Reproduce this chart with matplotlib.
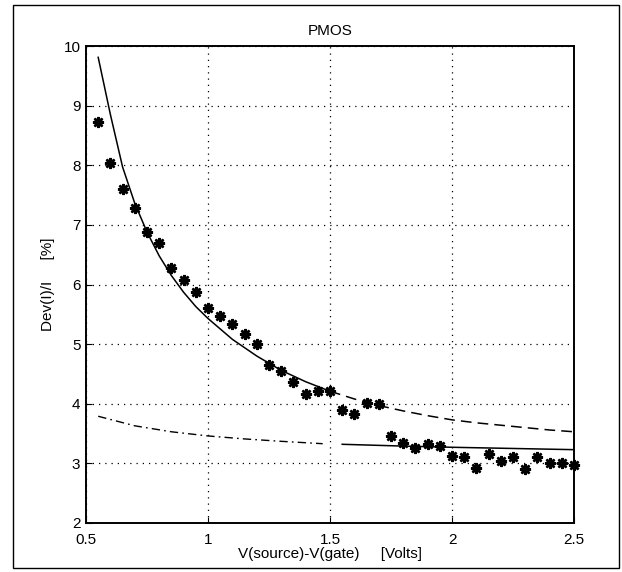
import matplotlib
matplotlib.use('agg')
import matplotlib.pyplot as plt
from matplotlib.patches import Rectangle

plt.rcParams['font.family'] = ['Liberation Sans', 'DejaVu Sans']

# measured points (stars)
vx = [0.55, 0.60, 0.65, 0.70, 0.75, 0.80, 0.85, 0.90, 0.95, 1.00,
      1.05, 1.10, 1.15, 1.20, 1.25, 1.30, 1.35, 1.40, 1.45, 1.50,
      1.55, 1.60, 1.65, 1.70, 1.75, 1.80, 1.85, 1.90, 1.95, 2.00,
      2.05, 2.10, 2.15, 2.20, 2.25, 2.30, 2.35, 2.40, 2.45, 2.50]
dev = [8.73, 8.03, 7.61, 7.29, 6.88, 6.70, 6.28, 6.08, 5.88, 5.60,
       5.47, 5.33, 5.17, 5.00, 4.65, 4.55, 4.37, 4.16, 4.21, 4.21,
       3.89, 3.83, 4.02, 3.99, 3.46, 3.35, 3.25, 3.32, 3.29, 3.12,
       3.11, 2.93, 3.15, 3.04, 3.11, 2.91, 3.10, 3.00, 3.00, 2.98]

# model curve, solid part and dashed continuation
fit_x = [0.55, 0.60, 0.65, 0.70, 0.75, 0.80, 0.85, 0.90, 0.95, 1.00,
         1.10, 1.20, 1.30, 1.40, 1.50]
fit_y = [9.81, 8.85, 7.97, 7.36, 6.88, 6.48, 6.15, 5.87, 5.63, 5.43,
         5.08, 4.80, 4.56, 4.37, 4.21]
ext_x = [1.50, 1.60, 1.70, 1.80, 1.90, 2.00, 2.10, 2.20, 2.30, 2.40, 2.50]
ext_y = [4.21, 4.08, 3.97, 3.88, 3.80, 3.73, 3.68, 3.64, 3.60, 3.56, 3.53]

# second model curve, dash-dot part and solid part
low_x = [0.55, 0.70, 0.85, 1.00, 1.15, 1.30, 1.47]
low_y = [3.79, 3.63, 3.53, 3.46, 3.41, 3.37, 3.33]
flat_x = [1.55, 1.80, 2.00, 2.25, 2.50]
flat_y = [3.32, 3.29, 3.27, 3.25, 3.23]

fig = plt.figure(figsize=(6.22, 5.72), dpi=100)
ax = fig.add_axes([86/622, 49/572, 488/622, 477/572])

ax.plot(fit_x, fit_y, color='k', lw=1.1)
ax.plot(ext_x, ext_y, color='k', lw=1.1, dashes=(7, 4))
ax.plot(low_x, low_y, color='k', lw=1.0, dashes=(6, 3, 1.2, 3))
ax.plot(flat_x, flat_y, color='k', lw=1.1)
ax.plot(vx, dev, ls='none', marker=(8, 2, 0), ms=8, mew=1.8, color='k', clip_on=False)

ax.set_xlim(0.5, 2.5)
ax.set_ylim(2, 10)
ax.set_xticks([0.5, 1, 1.5, 2, 2.5])
ax.set_xticklabels(['0.5', '1', '1.5', '2', '2.5'])
ax.set_yticks(range(2, 11))
ax.grid(True, color='k', ls=(0, (1, 4)), lw=0.9)
ax.tick_params(direction='in', length=4, labelsize=11, width=0.8)
ax.tick_params(axis='y', pad=4)
ax.tick_params(axis='x', pad=7)
for s in ax.spines.values():
    s.set_linewidth(1.4)

ax.set_title('PMOS', fontsize=11, pad=8)
ax.set_xlabel('V(source)-V(gate)     [Volts]', fontsize=11, labelpad=0)
ax.set_ylabel('Dev(I)/I     [%]', fontsize=11, labelpad=6)

fig.patches.append(Rectangle((13/622, 4/572), 606/622, 563/572, transform=fig.transFigure,
                             fill=False, edgecolor='k', lw=1.0))

plt.savefig('out.png', dpi=100)
